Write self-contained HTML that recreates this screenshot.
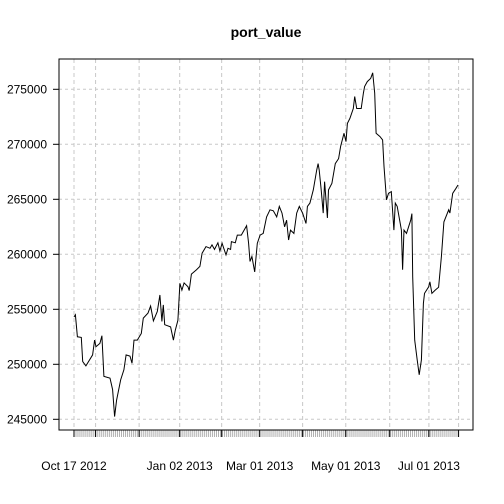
<!DOCTYPE html>
<html><head><meta charset="utf-8"><style>
body{margin:0;background:#fff}
svg{display:block;font-family:"Liberation Sans",Arial,sans-serif}
</style></head><body>
<svg id="chart" width="504" height="504">
<text x="266" y="37" text-anchor="middle" font-weight="bold" font-size="14">port_value</text>
<g id="grid"></g><g id="ticks"></g><g id="labels"></g>
<rect x="59" y="59" width="414" height="371" fill="none" stroke="#000" stroke-width="1"/>
</svg>
<script>
const days=[0,0.7,1.7,3.7,4.4,6.0,9.4,10.4,11.1,13.1,14.1,15.1,18.2,19.5,20.5,21.5,23.6,25.2,26.3,28.3,29.3,30.3,32.0,34.0,35.0,37.4,38.7,40.1,42.1,43.4,44.4,45.1,45.8,48.8,50.2,51.2,52.5,53.5,54.5,55.6,57.6,58.2,59.3,61.9,63.6,64.7,66.7,68.7,69.7,71.0,72.7,73.7,74.8,76.8,77.8,79.1,79.5,81.5,82.5,84.5,87.2,88.2,88.9,89.9,91.3,92.6,94.0,95.6,97.3,99.0,100.7,102.4,103.7,105.1,106.4,107.4,108.4,109.4,111.1,112.5,113.8,115.5,117.2,117.9,119.2,120.9,122.6,123.3,123.9,124.9,125.9,126.6,128.0,128.6,130.3,132.0,133.7,134.7,136.4,137.4,138.1,139.4,141.1,141.8,142.8,145.1,146.2,146.8,148.2,149.9,150.9,151.9,152.6,154.6,155.9,156.6,157.9,158.9,160.3,161.6,162.3,163.3,165.4,166.0,166.7,168.0,170.1,170.7,171.1,172.1,173.4,174.4,175.5,176.5,177.1,179.2,179.8,180.8,182.5,184.2,185.6,186.9,189.3,189.9,191.3,193.0,194.0];
const values=[254300,254500,252500,252450,250250,249850,250850,252200,251600,251900,252600,248900,248750,247700,245250,246750,248600,249500,250850,250750,250100,252200,252200,252800,254200,254650,255300,253950,254800,256300,253900,255400,253600,253400,252200,253100,254000,257350,256750,257400,257050,256700,258200,258600,258900,260100,260700,260550,260850,260450,261050,260300,261000,259950,260550,260450,261150,261050,261750,261750,262600,261000,259350,259800,258400,261000,261750,261900,263400,264050,263950,263400,264350,263750,262500,263100,261300,262200,261900,263750,264350,263750,262800,264350,264650,265850,267650,268250,267650,265850,263750,266600,263300,265850,266450,268250,268700,269800,271000,270250,271900,272350,273250,274350,273250,273250,274650,275250,275700,276000,276500,274650,271000,270700,270400,268000,264950,265550,265700,262200,264650,264350,262200,258600,262200,261900,263100,263700,257950,252200,250400,249050,250400,255550,256450,257050,257500,256450,256750,257000,259800,262950,264050,263750,265550,266000,266300];
const yTicks=[245000,250000,255000,260000,265000,270000,275000];
const gridDays=[0,10.9,32.9,53.4,74.6,93.8,115.5,137.3,159.5,179.3,194.3];
const xLabels=["Oct 17 2012","Jan 02 2013","Mar 01 2013","May 01 2013","Jul 01 2013"];
const xLabelDays=[0,53.4,93.8,137.3,179.3];
const NS="http://www.w3.org/2000/svg";
const x=d=>74+d*384/194;
const y=v=>89.3+(275000-v)*11/1000;
const svg=document.getElementById('chart');
const grid=document.getElementById('grid'),ticks=document.getElementById('ticks'),labels=document.getElementById('labels');
function mk(t,a,p){const e=document.createElementNS(NS,t);for(const k in a)e.setAttribute(k,a[k]);p.appendChild(e);return e;}
yTicks.forEach(v=>{
 const g=mk('line',{x1:59,x2:473,y1:y(v),y2:y(v),stroke:'#c8c8c8','stroke-dasharray':'3,3'},grid);
 
 
 const t=mk('line',{x1:53,x2:59,y1:y(v),y2:y(v),stroke:'#000'},ticks);
 
 
 const l=mk('text',{x:47,y:y(v)+4,'text-anchor':'end','font-size':12},labels);
 l.textContent=v;
 
 
});
for(let d=0;d<=194;d+=1){
 const t=mk('line',{x1:x(d),x2:x(d),y1:430,y2:437,stroke:'#b0b0b0'},ticks);
 
 
}
gridDays.forEach(d=>{
 const g=mk('line',{x1:x(d),x2:x(d),y1:59,y2:430,stroke:'#c8c8c8','stroke-dasharray':'4,3'},grid);
 
 
 const t=mk('line',{x1:x(d),x2:x(d),y1:430,y2:437,stroke:'#000'},ticks);
 
 
});
xLabels.forEach((s,i)=>{
 const l=mk('text',{x:x(xLabelDays[i]),y:470,'text-anchor':'middle','font-size':12},labels);
 l.textContent=s;
 
 
});
const line=mk('polyline',{points:days.map((d,i)=>x(d).toFixed(1)+','+y(values[i]).toFixed(1)).join(' '),fill:'none',stroke:'#000','stroke-width':1},svg);


</script>
</body></html>
